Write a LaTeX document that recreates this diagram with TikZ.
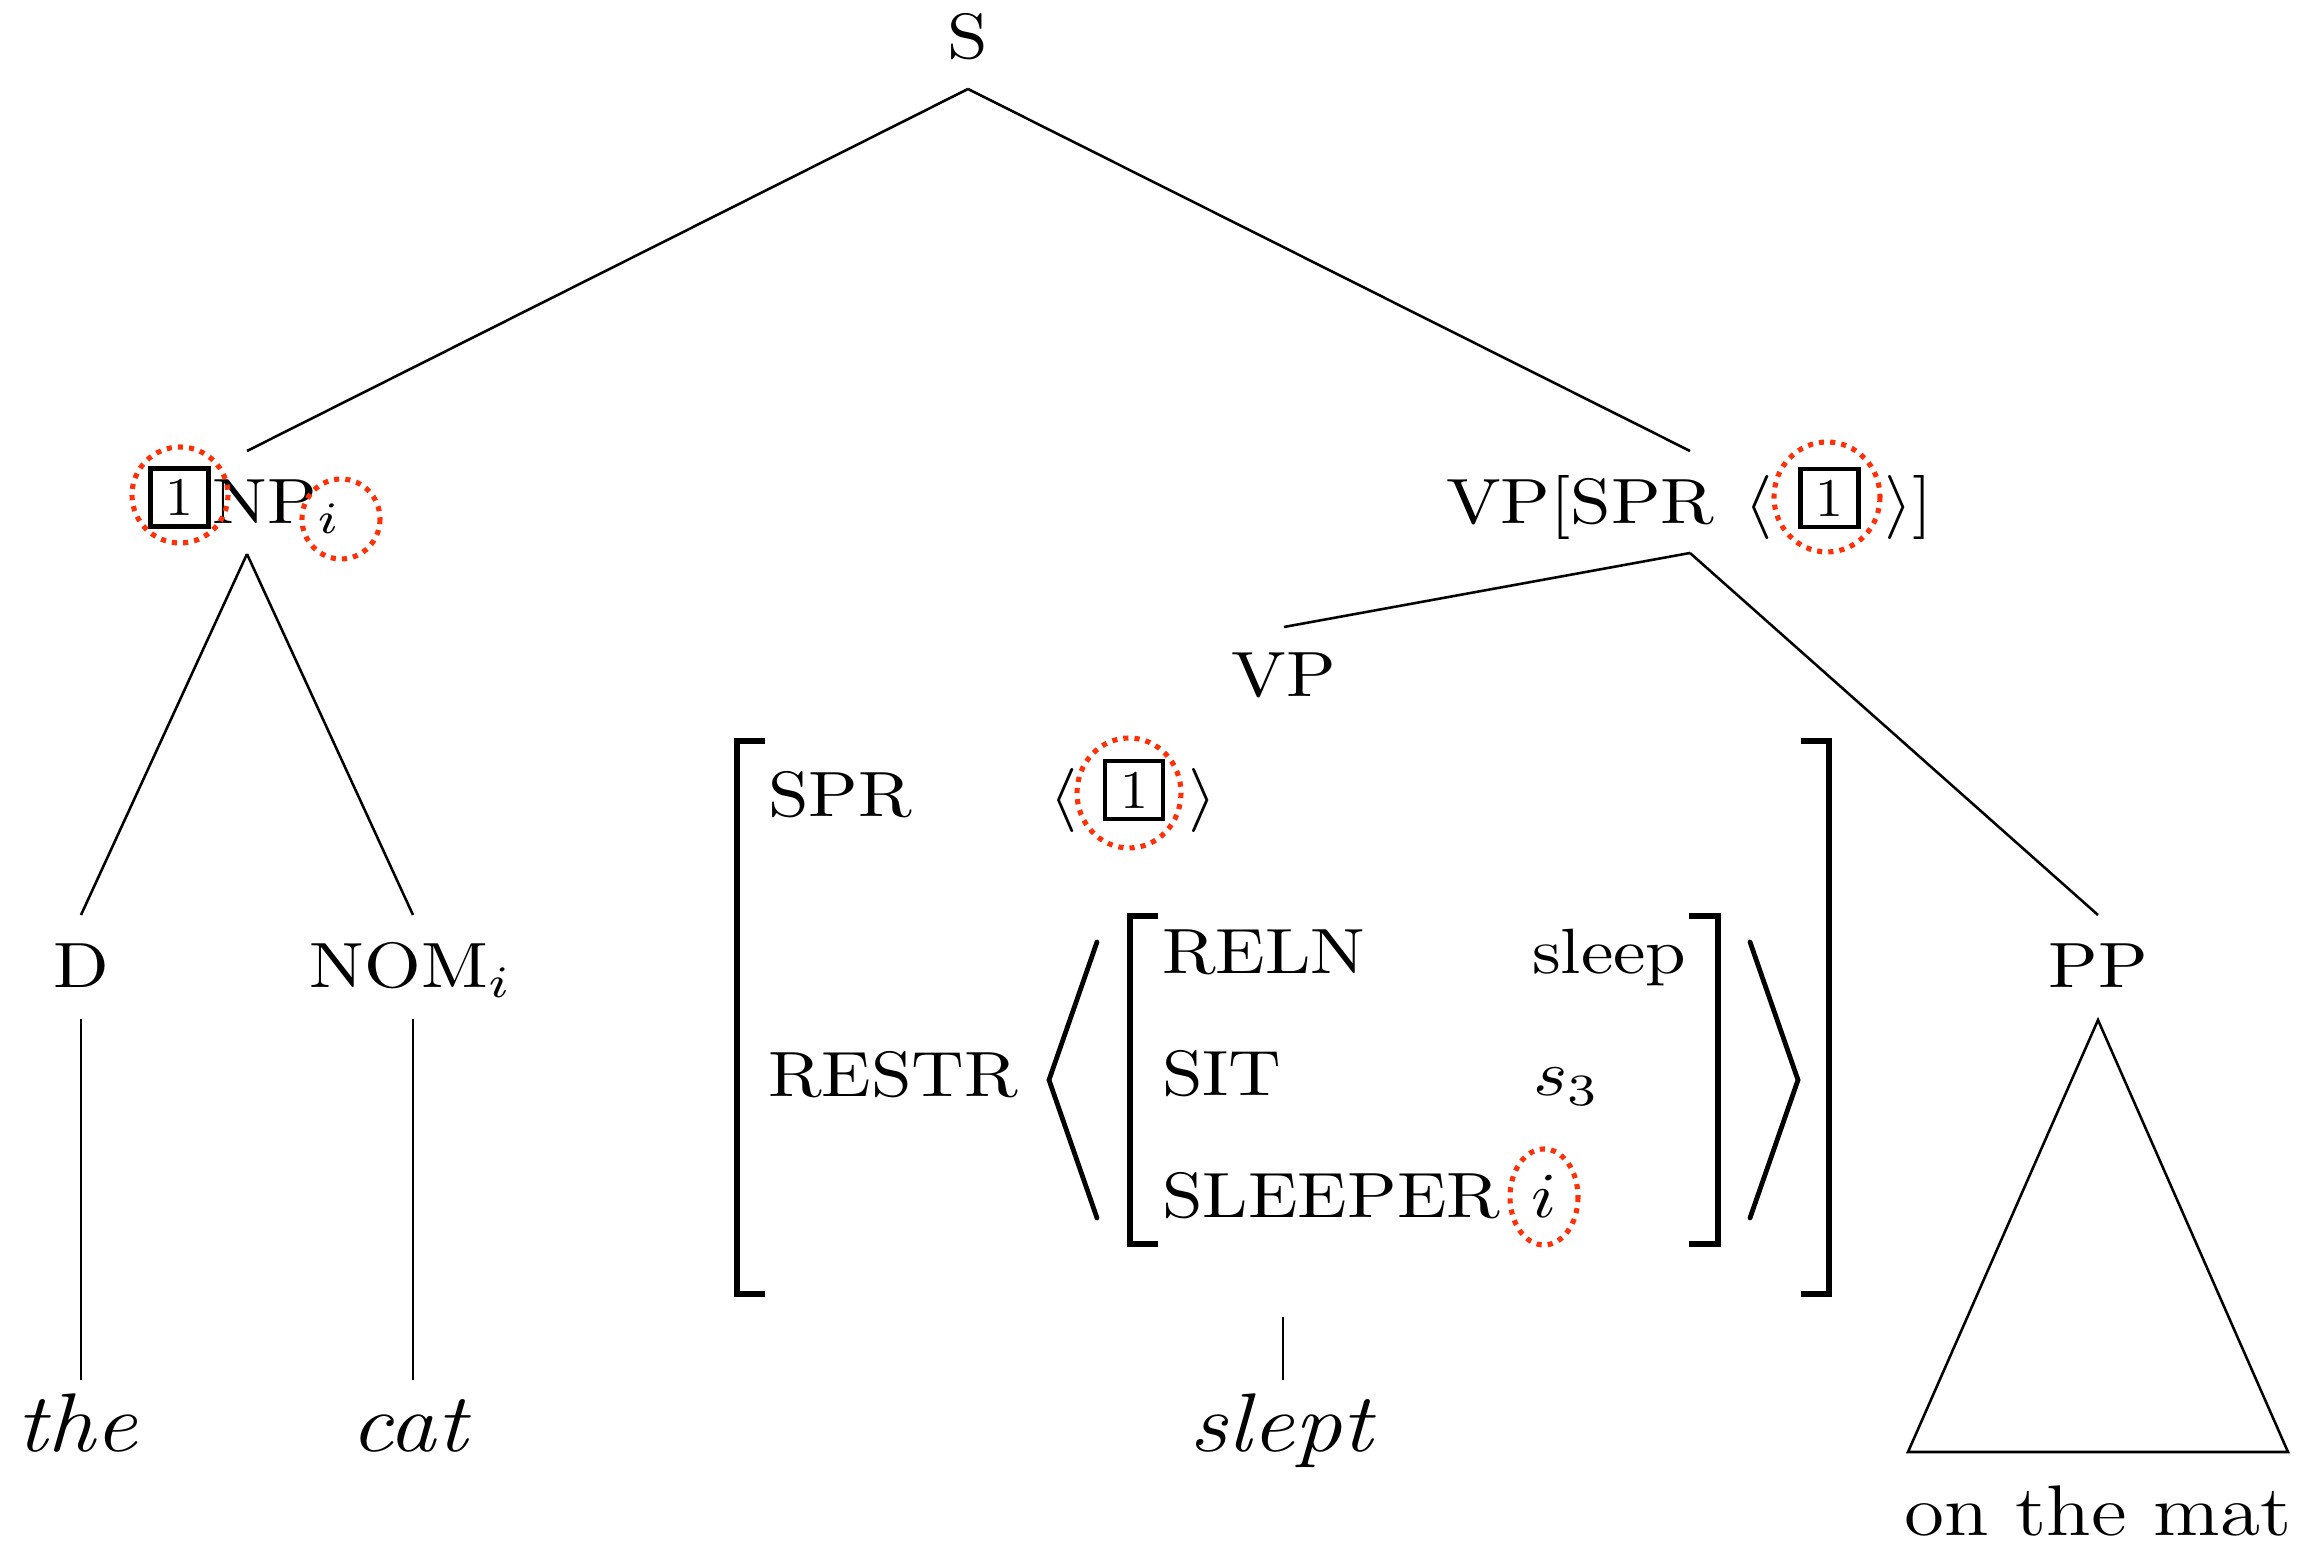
\documentclass[tikz,border=0pt]{standalone}
\definecolor{dotred}{RGB}{255,48,8}
\tikzset{
  lbl/.style={inner sep=0pt, outer sep=0pt, xscale=1.14, font=\fontsize{10}{12}\selectfont},
  leaf/.style={lbl, font=\fontsize{13}{15}\selectfont\itshape},
  tree/.style={line width=0.4pt},
  tagbox/.style={draw, line width=0.7pt, inner sep=0pt, outer sep=0pt, minimum width=9pt, minimum height=9pt, font=\fontsize{8.5}{9}\selectfont},
  ring/.style={draw=dotred, line width=0.8pt, dash pattern=on 0.8pt off 0.95pt},
  brk/.style={line width=0.85pt},
  ang/.style={line width=0.75pt, line cap=round},
}
\begin{document}
\begin{tikzpicture}[x=0.15625pt,y=-0.15625pt]
\useasboundingbox (0,0) rectangle (2315,1543);

% ---------- S ----------
\node[lbl, anchor=base] (S) at (968,59) {S};
\coordinate (S-b) at (968,89);

% ---------- NP ----------
\node[tagbox] (NPtag) at (179.5,497.5) {1};
\node[lbl, anchor=base west] (NP) at (213,524) {NP$_i$};
\coordinate (NP-t) at (247,451);
\coordinate (NP-b) at (247,554);
\draw[ring] (180,495) ellipse [x radius=48, y radius=48];
\draw[ring] (341,519) ellipse [x radius=39, y radius=40];

% ---------- VP[SPR <1>] ----------
\node[lbl, anchor=base west] (VPs) at (1446,524) {VP[SPR};
\node[lbl, anchor=base] (VPla) at (1759,524) {$\langle$};
\node[tagbox] (VPtag) at (1829.5,498) {1};
\node[lbl, anchor=base] (VPra) at (1898.5,524) {$\rangle$};
\node[lbl, anchor=base] (VPrb) at (1922.5,524) {]};
\draw[ring] (1827,497) ellipse [x radius=53, y radius=55];
\coordinate (VP-t) at (1690,451);
\coordinate (VP-b) at (1690,553);

% ---------- S connectors ----------
\draw[tree] (S-b) -- (NP-t);
\draw[tree] (S-b) -- (VP-t);

% ---------- D / NOM ----------
\node[lbl, anchor=base] (D) at (81,988) {D};
\node[lbl, anchor=base] (NOM) at (411,988) {NOM$_i$};
\coordinate (D-t) at (81,915);
\coordinate (D-b) at (81,1019);
\coordinate (NOM-t) at (413,915);
\coordinate (NOM-b) at (413,1019);
\draw[tree] (NP-b) -- (D-t);
\draw[tree] (NP-b) -- (NOM-t);

% ---------- leaves ----------
\node[leaf, anchor=base] (the) at (77,1452) {the};
\node[leaf, anchor=base] (cat) at (409,1452) {cat};
\node[leaf, anchor=base] (slept) at (1281,1452) {slept};
\coordinate (the-t) at (81,1380);
\coordinate (cat-t) at (413,1380);
\coordinate (slept-t) at (1283,1380);
\draw[tree] (D-b) -- (the-t);
\draw[tree] (NOM-b) -- (cat-t);

% ---------- lower VP ----------
\node[lbl, anchor=base] (VP2) at (1284,697) {VP};
\coordinate (VP2-t) at (1284,627);
\draw[tree] (VP-b) -- (VP2-t);

% ---------- AVM ----------
\draw[brk] (765,741) -- (737,741) -- (737,1294) -- (765,1294);
\draw[brk] (1801,741) -- (1829,741) -- (1829,1294) -- (1801,1294);
\node[lbl, anchor=base west] (SPR) at (768,817) {SPR};
\node[lbl, anchor=base] (SPRla) at (1064,817) {$\langle$};
\node[tagbox] (SPRtag) at (1134,790) {1};
\node[lbl, anchor=base] (SPRra) at (1203,817) {$\rangle$};
\draw[ring] (1129,793) ellipse [x radius=52, y radius=55];

\node[lbl, anchor=base west] (RESTR) at (768,1097) {RESTR};
\draw[ang] (1097,942) -- (1049,1080) -- (1097,1218);
\draw[ang] (1750,942) -- (1798,1080) -- (1750,1218);
\draw[brk] (1158,916) -- (1130,916) -- (1130,1244) -- (1158,1244);
\draw[brk] (1689,916) -- (1718,916) -- (1718,1244) -- (1689,1244);
\node[lbl, anchor=base west] (RELN) at (1162,974) {RELN};
\node[lbl, anchor=base west] (sleep) at (1532,974) {sleep};
\node[lbl, anchor=base west] (SIT) at (1162,1096) {SIT};
\node[lbl, anchor=base west] (s3) at (1533,1096) {$s_3$};
\node[lbl, anchor=base west] (SLEEPER) at (1162,1218) {SLEEPER};
\node[lbl, anchor=base west] (ival) at (1531,1218) {$i$};
\draw[ring] (1544,1197) ellipse [x radius=34, y radius=48];

\coordinate (AVM-b) at (1283,1317);
\draw[tree] (AVM-b) -- (slept-t);

% ---------- PP ----------
\node[lbl, anchor=base] (PP) at (2098,988) {PP};
\coordinate (PP-t) at (2098,915);
\draw[tree] (VP-b) -- (PP-t);
\coordinate (tri-a) at (2098,1020);
\coordinate (tri-l) at (1908,1452);
\coordinate (tri-r) at (2288,1452);
\draw[tree] (tri-a) -- (tri-l) -- (tri-r) -- cycle;
\node[lbl, font=\fontsize{11.2}{13}\selectfont, anchor=base] (mat) at (2098,1536) {on the mat};
\end{tikzpicture}
\end{document}
